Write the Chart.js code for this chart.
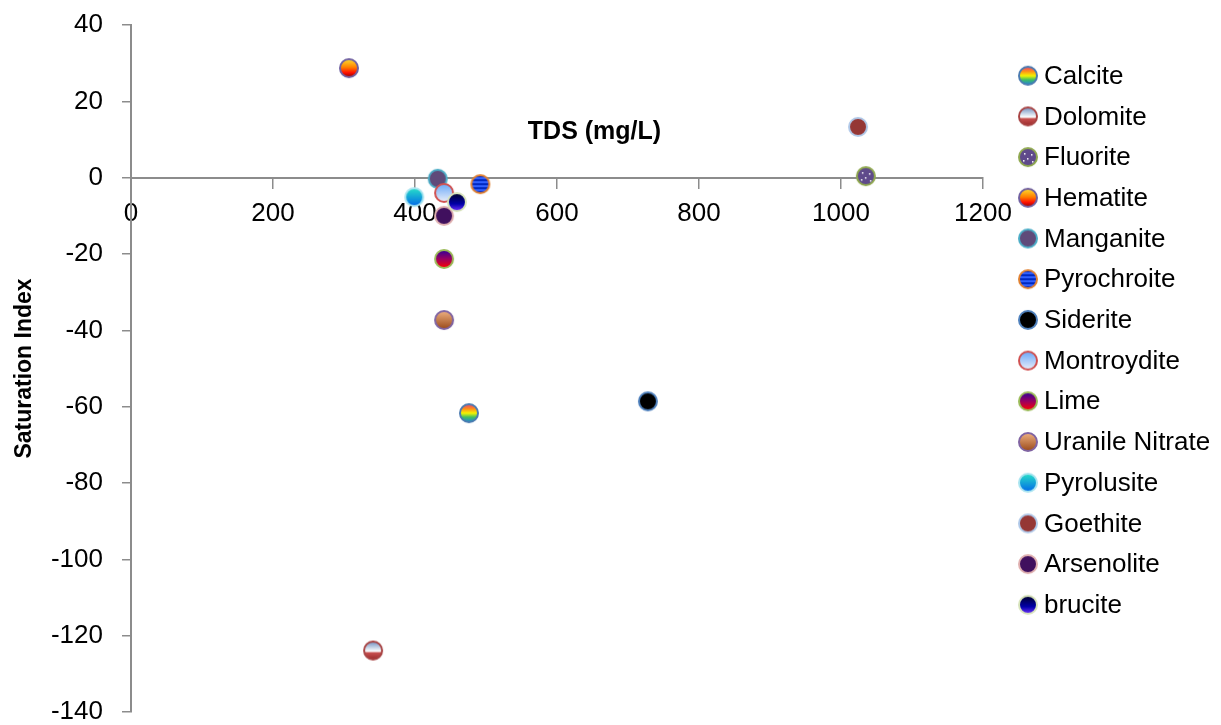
<!DOCTYPE html>
<html>
<head>
<meta charset="utf-8">
<title>Saturation Index vs TDS</title>
<script src="https://cdn.jsdelivr.net/npm/chart.js@4.4.1/dist/chart.umd.min.js"></script>
<style>
  html, body { margin: 0; padding: 0; background: #ffffff; }
  #chart-wrap { width: 1221px; height: 725px; }
</style>
</head>
<body>
<div id="chart-wrap">
  <canvas id="siChart" width="1221" height="725"></canvas>
</div>
<script>
// Series (minerals) and their single point each
const minerals = [
  "Calcite", "Dolomite", "Fluorite", "Hematite", "Manganite", "Pyrochroite",
  "Siderite", "Montroydite", "Lime", "Uranile Nitrate", "Pyrolusite",
  "Goethite", "Arsenolite", "brucite"
];
const tdsValues = [476, 341, 1035, 307, 432, 492, 728, 441, 441, 441, 399, 1024, 441, 459];
const siValues = [-61.7, -123.9, 0.4, 28.7, -0.3, -1.7, -58.6, -4.0, -21.3, -37.3, -5.1, 13.3, -10.0, -6.4];

// axis ticks
const xTicks = [0, 200, 400, 600, 800, 1000, 1200];
const yTicks = [40, 20, 0, -20, -40, -60, -80, -100, -120, -140];

const xTitle = "TDS (mg/L)";
const yTitle = "Saturation Index";

(function () {
  "use strict";

  const FONT = "'Liberation Sans', Arial, sans-serif";

  // marker look per mineral (fill stops top -> bottom, border colour)
  const markerStyles = [
    { fill: [[0, "#e8407a"], [0.25, "#ff8c1a"], [0.5, "#f5f500"], [0.72, "#40c060"], [1, "#2080e0"]], border: "#4a7ab0" },
    { fill: [[0, "#6f8fc0"], [0.45, "#e6edf5"], [0.55, "#ffffff"], [0.62, "#c85050"], [1, "#9a2a2a"]], border: "#a84444" },
    { fill: "#5f4a8b", border: "#8fa84f", dots: true },
    { fill: [[0, "#ffe030"], [0.45, "#ff8000"], [0.75, "#ff1000"], [1, "#900000"]], border: "#7060a0" },
    { fill: "#5f4a7a", border: "#4bacc6" },
    { fill: "#0028c0", border: "#e08030", stripes: "#3060ff" },
    { fill: "#000000", border: "#4f81bd" },
    { fill: [[0, "#6aa8f8"], [1, "#eaeef8"]], border: "#d05050" },
    { fill: [[0, "#30009a"], [0.5, "#9a0060"], [1, "#ff0000"]], border: "#9bbb59" },
    { fill: [[0, "#eeb080"], [1, "#9a4a1a"]], border: "#8064a2" },
    { fill: [[0, "#28e0c8"], [1, "#0068e8"]], border: "#a8e4f0" },
    { fill: "#953735", border: "#b0c8e8" },
    { fill: "#40105e", border: "#e0b0b0" },
    { fill: [[0, "#000028"], [0.6, "#0000a8"], [1, "#7030ff"]], border: "#d8e4bc" }
  ];

  function makeMarker(style) {
    const size = 24, r = 9, cx = 12, cy = 12;
    const c = document.createElement("canvas");
    c.width = size;
    c.height = size;
    const g = c.getContext("2d");
    g.save();
    g.beginPath();
    g.arc(cx, cy, r, 0, Math.PI * 2);
    g.closePath();
    g.clip();
    if (Array.isArray(style.fill)) {
      const grad = g.createLinearGradient(0, cy - r, 0, cy + r);
      style.fill.forEach((s) => grad.addColorStop(s[0], s[1]));
      g.fillStyle = grad;
    } else {
      g.fillStyle = style.fill;
    }
    g.fillRect(0, 0, size, size);
    if (style.stripes) {
      g.fillStyle = style.stripes;
      for (let y = cy - r + 2; y < cy + r; y += 4) {
        g.fillRect(0, y, size, 2);
      }
    }
    if (style.dots) {
      g.fillStyle = "#ffffff";
      [[8, 8], [15, 9], [11, 13], [7, 15], [16, 16]].forEach((p) => g.fillRect(p[0], p[1], 1.5, 1.5));
    }
    g.restore();
    g.beginPath();
    g.arc(cx, cy, r, 0, Math.PI * 2);
    g.lineWidth = 2;
    g.strokeStyle = style.border;
    g.stroke();
    return c;
  }

  const markers = markerStyles.map(makeMarker);

  const datasets = minerals.map((name, i) => ({
    label: name,
    data: [{ x: tdsValues[i], y: siValues[i] }],
    pointStyle: markers[i],
    pointRadius: 10,
    pointHoverRadius: 10,
    order: minerals.length - i
  }));

  // legend on the right, drawn by hand so it sits where the original has it
  const sideLegend = {
    id: "sideLegend",
    afterDraw(chart) {
      const ctx = chart.ctx;
      const x0 = chart.width - 193;
      const y0 = 75.7;
      const step = 40.7;
      ctx.save();
      ctx.font = "26px " + FONT;
      ctx.fillStyle = "#000000";
      ctx.textBaseline = "middle";
      ctx.textAlign = "left";
      minerals.forEach((name, i) => {
        const y = y0 + i * step;
        ctx.drawImage(markers[i], x0 - 12, y - 12);
        ctx.fillText(name, x0 + 16, y + 1);
      });
      ctx.restore();
    }
  };

  // x axis title sits inside the plot above the axis line
  const xTitlePlugin = {
    id: "xTitlePlugin",
    afterDraw(chart) {
      const a = chart.chartArea;
      const ctx = chart.ctx;
      ctx.save();
      ctx.font = "bold 25px " + FONT;
      ctx.fillStyle = "#000000";
      ctx.textAlign = "center";
      ctx.textBaseline = "middle";
      ctx.fillText(xTitle, a.left + (a.right - a.left) * 0.544, a.top + 107);
      ctx.restore();
    }
  };

  const axisColor = "#8c8c8c";
  const plainNumber = (v) => String(v);

  new Chart(document.getElementById("siChart"), {
    type: "scatter",
    data: { datasets: datasets },
    options: {
      responsive: false,
      animation: false,
      devicePixelRatio: 1,
      layout: { padding: { top: 25, right: 238, bottom: 13, left: 0 } },
      plugins: {
        legend: { display: false },
        tooltip: { enabled: false }
      },
      scales: {
        x: {
          type: "linear",
          position: { y: 0 },
          min: xTicks[0],
          max: xTicks[xTicks.length - 1],
          afterBuildTicks: (s) => { s.ticks = xTicks.map((v) => ({ value: v })); },
          grid: { drawOnChartArea: false, drawTicks: true, tickLength: 10, color: axisColor, lineWidth: 1.5 },
          border: { color: axisColor, width: 2 },
          ticks: { color: "#000000", padding: 11, maxRotation: 0, callback: plainNumber, font: { family: FONT, size: 26 } }
        },
        y: {
          type: "linear",
          min: yTicks[yTicks.length - 1],
          max: yTicks[0],
          afterBuildTicks: (s) => { s.ticks = yTicks.slice().reverse().map((v) => ({ value: v })); },
          afterFit: (s) => {
            s.width = 131;
            s.paddingTop = 0;
            s.paddingBottom = 0;
          },
          grid: { drawOnChartArea: false, drawTicks: true, tickLength: 9, color: axisColor, lineWidth: 1.5 },
          border: { color: axisColor, width: 2 },
          ticks: { color: "#000000", padding: 19, callback: plainNumber, font: { family: FONT, size: 26, lineHeight: 1 } },
          title: {
            display: true,
            text: yTitle,
            color: "#000000",
            padding: { top: 11, bottom: 0 },
            font: { family: FONT, size: 23, weight: "bold" }
          }
        }
      }
    },
    plugins: [sideLegend, xTitlePlugin]
  });
})();
</script>
</body>
</html>
